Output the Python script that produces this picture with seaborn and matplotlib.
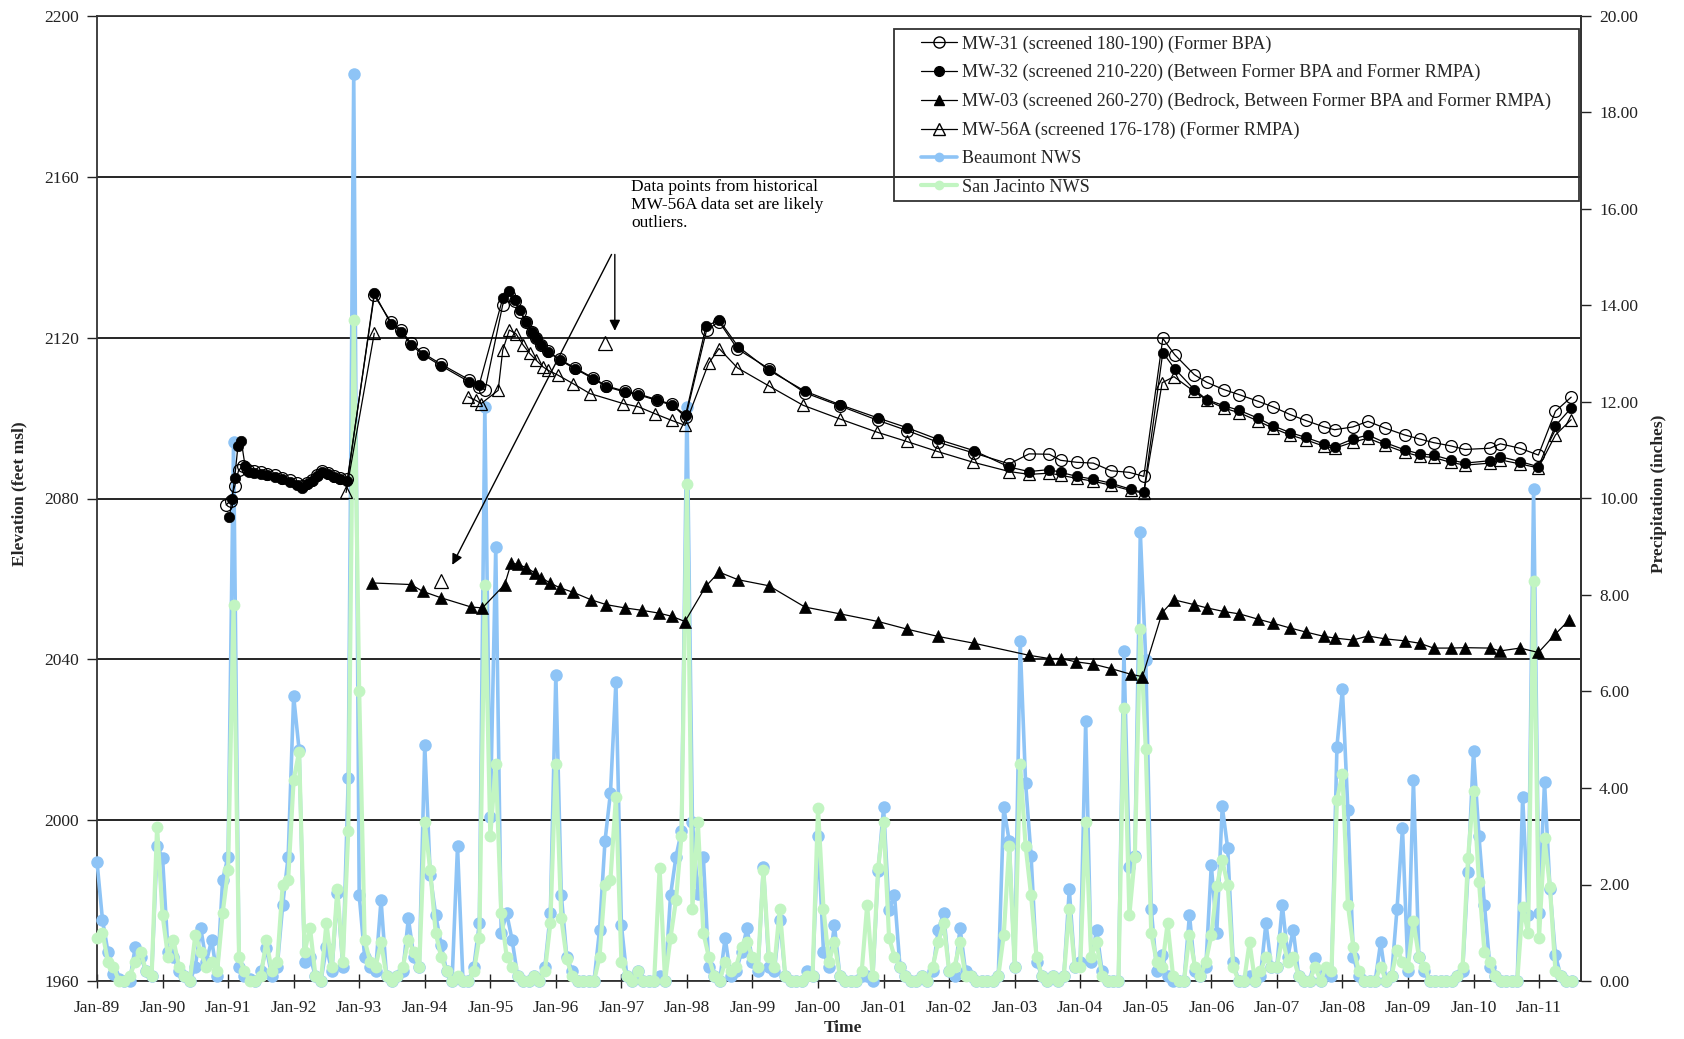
import numpy as np
import pandas as pd
import matplotlib
matplotlib.use("Agg")
import matplotlib.pyplot as plt
from matplotlib.lines import Line2D
from matplotlib.patches import Rectangle
import seaborn as sns

# ---------------- data ----------------
start_year = 1989
tick_years = list(range(1989, 2012))
tick_labels = [f"Jan-{y % 100:02d}" for y in tick_years]
elev_ticks = [1960, 2000, 2040, 2080, 2120, 2160, 2200]
precip_ticks = [0, 2, 4, 6, 8, 10, 12, 14, 16, 18, 20]

# monthly precipitation (inches), Jan-1989 .. Jul-2011
beaumont = [
    2.47, 1.27, 0.61, 0.15, 0.05, 0.00, 0.00, 0.71, 0.50, 0.20, 0.10, 2.79,
    2.55, 0.60, 0.50, 0.20, 0.10, 0.00, 0.30, 1.09, 0.40, 0.85, 0.10, 2.10,
    2.58, 11.18, 0.30, 0.10, 0.05, 0.00, 0.20, 0.68, 0.10, 0.30, 1.58, 2.58,
    5.90, 4.79, 0.40, 0.50, 0.10, 0.00, 0.70, 0.20, 1.82, 0.30, 4.20, 18.80,
    1.78, 0.50, 0.30, 0.20, 1.68, 0.10, 0.00, 0.10, 0.20, 1.30, 0.50, 0.30,
    4.90, 2.20, 1.37, 0.75, 0.20, 0.00, 2.79, 0.00, 0.00, 0.30, 1.20, 11.90,
    3.40, 9.00, 1.00, 1.40, 0.85, 0.10, 0.00, 0.00, 0.10, 0.00, 0.30, 1.40,
    6.35, 1.78, 0.50, 0.20, 0.00, 0.00, 0.00, 0.00, 1.06, 2.90, 3.90, 6.20,
    1.16, 0.10, 0.00, 0.20, 0.00, 0.00, 0.00, 0.10, 0.00, 1.78, 2.58, 3.10,
    11.90, 3.30, 1.80, 2.58, 0.30, 0.10, 0.00, 0.90, 0.10, 0.20, 0.60, 1.10,
    0.40, 0.20, 2.37, 0.30, 0.20, 1.27, 0.10, 0.00, 0.00, 0.00, 0.20, 0.10,
    3.00, 0.60, 0.30, 1.16, 0.10, 0.00, 0.00, 0.00, 0.10, 0.10, 0.00, 2.27,
    3.60, 1.47, 1.78, 0.30, 0.10, 0.00, 0.00, 0.10, 0.00, 0.20, 1.06, 1.40,
    0.20, 0.10, 1.10, 0.20, 0.10, 0.00, 0.00, 0.00, 0.00, 0.10, 3.60, 2.90,
    0.30, 7.04, 4.10, 2.60, 0.40, 0.10, 0.00, 0.10, 0.00, 0.10, 1.90, 0.30,
    0.40, 5.38, 0.40, 1.06, 0.20, 0.00, 0.00, 0.00, 6.83, 2.37, 2.60, 9.30,
    6.66, 1.50, 0.20, 0.54, 0.10, 0.00, 0.00, 0.00, 1.37, 0.20, 0.10, 0.30,
    2.40, 1.00, 3.62, 2.75, 0.40, 0.00, 0.00, 0.10, 0.00, 0.10, 1.20, 0.30,
    0.30, 1.58, 0.50, 1.06, 0.10, 0.00, 0.00, 0.47, 0.00, 0.20, 0.10, 4.86,
    6.05, 3.55, 0.50, 0.10, 0.00, 0.00, 0.00, 0.80, 0.00, 0.10, 1.50, 3.17,
    0.20, 4.17, 0.50, 0.20, 0.00, 0.00, 0.00, 0.00, 0.00, 0.10, 0.20, 2.26,
    4.76, 3.00, 1.58, 0.30, 0.10, 0.00, 0.00, 0.00, 0.00, 3.82, 1.37, 10.20,
    1.40, 4.13, 1.90, 0.53, 0.10, 0.00, 0.00,
]
san_jacinto = [
    0.90, 1.00, 0.40, 0.30, 0.00, 0.00, 0.10, 0.40, 0.60, 0.20, 0.10, 3.20,
    1.37, 0.50, 0.85, 0.30, 0.10, 0.00, 0.96, 0.60, 0.30, 0.40, 0.20, 1.40,
    2.30, 7.80, 0.50, 0.20, 0.00, 0.00, 0.10, 0.84, 0.20, 0.40, 2.00, 2.10,
    4.17, 4.75, 0.60, 1.10, 0.10, 0.00, 1.20, 0.30, 1.90, 0.40, 3.10, 13.70,
    6.00, 0.85, 0.40, 0.30, 0.80, 0.10, 0.00, 0.10, 0.30, 0.85, 0.60, 0.30,
    3.30, 2.30, 1.00, 0.50, 0.20, 0.00, 0.10, 0.00, 0.00, 0.20, 0.90, 8.20,
    3.00, 4.50, 1.40, 0.50, 0.30, 0.10, 0.00, 0.00, 0.10, 0.00, 0.20, 1.20,
    4.50, 1.30, 0.45, 0.10, 0.00, 0.00, 0.00, 0.00, 0.50, 2.00, 2.10, 3.82,
    0.40, 0.10, 0.00, 0.20, 0.00, 0.00, 0.00, 2.34, 0.00, 0.90, 1.68, 3.00,
    10.30, 1.50, 3.30, 1.00, 0.50, 0.10, 0.00, 0.40, 0.20, 0.30, 0.70, 0.80,
    0.50, 0.30, 2.30, 0.50, 0.30, 1.50, 0.10, 0.00, 0.00, 0.00, 0.10, 0.10,
    3.58, 1.50, 0.40, 0.80, 0.10, 0.00, 0.00, 0.00, 0.20, 1.58, 0.10, 2.34,
    3.30, 0.90, 0.50, 0.30, 0.10, 0.00, 0.00, 0.10, 0.00, 0.30, 0.80, 1.20,
    0.20, 0.30, 0.80, 0.10, 0.10, 0.00, 0.00, 0.00, 0.00, 0.10, 0.95, 2.80,
    0.30, 4.50, 2.80, 1.78, 0.50, 0.10, 0.00, 0.10, 0.00, 0.10, 1.50, 0.30,
    0.30, 3.30, 0.50, 0.80, 0.10, 0.00, 0.00, 0.00, 5.66, 1.37, 2.58, 7.30,
    4.80, 0.99, 0.40, 0.30, 1.20, 0.10, 0.00, 0.00, 0.96, 0.30, 0.10, 0.40,
    0.95, 1.96, 2.50, 2.00, 0.30, 0.00, 0.00, 0.80, 0.00, 0.20, 0.50, 0.30,
    0.30, 0.90, 0.40, 0.50, 0.10, 0.00, 0.00, 0.30, 0.00, 0.30, 0.20, 3.75,
    4.30, 1.58, 0.70, 0.20, 0.00, 0.00, 0.00, 0.30, 0.00, 0.10, 0.65, 0.40,
    0.30, 1.24, 0.50, 0.30, 0.00, 0.00, 0.00, 0.00, 0.00, 0.10, 0.30, 2.55,
    3.93, 2.06, 0.60, 0.40, 0.10, 0.00, 0.00, 0.00, 0.00, 1.54, 1.00, 8.30,
    0.90, 2.96, 1.94, 0.20, 0.10, 0.00, 0.00,
]

# groundwater elevations (decimal year, feet msl)
mw31 = [
    (1990.97, 2078.4), (1991.04, 2079.5), (1991.10, 2083.0), (1991.16, 2087.0), (1991.22, 2088.0),
    (1991.30, 2087.0), (1991.40, 2086.8), (1991.50, 2086.5), (1991.60, 2086.2), (1991.72, 2085.8),
    (1991.82, 2085.2), (1991.95, 2084.6), (1992.05, 2083.8), (1992.12, 2083.0), (1992.20, 2083.8),
    (1992.28, 2084.6), (1992.36, 2085.9), (1992.44, 2086.8), (1992.52, 2086.4), (1992.61, 2085.7),
    (1992.70, 2085.2), (1992.82, 2084.8),
    (1993.23, 2130.5), (1993.48, 2124.0), (1993.64, 2121.9), (1993.79, 2118.6), (1993.97, 2116.2),
    (1994.25, 2113.4), (1994.68, 2109.5), (1994.83, 2107.8), (1994.92, 2107.0),
    (1995.19, 2128.2), (1995.29, 2130.7), (1995.37, 2129.0), (1995.45, 2126.5), (1995.55, 2123.8),
    (1995.63, 2121.5), (1995.70, 2119.8), (1995.78, 2118.3), (1995.88, 2116.6), (1996.06, 2114.6),
    (1996.29, 2112.5), (1996.57, 2110.0), (1996.77, 2108.0), (1997.05, 2106.7), (1997.26, 2106.0),
    (1997.54, 2104.6), (1997.77, 2103.4), (1997.98, 2100.2),
    (1998.30, 2121.9), (1998.49, 2124.0), (1998.77, 2117.2), (1999.25, 2112.3), (1999.80, 2106.3),
    (2000.34, 2103.0), (2000.92, 2099.4), (2001.36, 2096.9), (2001.83, 2094.0), (2002.38, 2091.3),
    (2002.92, 2088.6), (2003.22, 2091.1), (2003.53, 2091.0), (2003.70, 2089.5), (2003.95, 2089.0),
    (2004.20, 2088.8), (2004.47, 2086.9), (2004.75, 2086.5), (2004.97, 2085.5),
    (2005.26, 2119.8), (2005.44, 2115.8), (2005.74, 2110.8), (2005.93, 2108.9), (2006.19, 2107.1),
    (2006.43, 2105.8), (2006.71, 2104.2), (2006.94, 2102.8), (2007.20, 2100.9), (2007.44, 2099.4),
    (2007.72, 2097.8), (2007.88, 2097.1), (2008.16, 2097.8), (2008.39, 2099.2), (2008.65, 2097.5),
    (2008.95, 2095.8), (2009.18, 2094.8), (2009.39, 2093.9), (2009.65, 2093.1), (2009.87, 2092.2),
    (2010.25, 2092.5), (2010.41, 2093.6), (2010.71, 2092.5), (2010.99, 2090.8), (2011.25, 2101.7),
    (2011.49, 2105.2),
]
mw32 = [
    (1991.02, 2075.3), (1991.06, 2080.0), (1991.10, 2085.0), (1991.15, 2093.0), (1991.20, 2094.4),
    (1991.26, 2088.0), (1991.32, 2086.5), (1991.40, 2086.3), (1991.50, 2086.0), (1991.60, 2085.8),
    (1991.72, 2085.3), (1991.82, 2084.8), (1991.95, 2084.2), (1992.05, 2083.3), (1992.12, 2082.5),
    (1992.20, 2083.5), (1992.28, 2084.3), (1992.36, 2085.6), (1992.44, 2086.5), (1992.52, 2086.0),
    (1992.61, 2085.3), (1992.70, 2084.9), (1992.82, 2084.4),
    (1993.23, 2131.1), (1993.48, 2123.5), (1993.64, 2121.5), (1993.79, 2118.2), (1993.97, 2115.8),
    (1994.25, 2113.0), (1994.68, 2109.0), (1994.83, 2108.2),
    (1995.19, 2129.8), (1995.29, 2131.5), (1995.37, 2129.4), (1995.45, 2126.9), (1995.55, 2124.0),
    (1995.63, 2121.5), (1995.70, 2119.8), (1995.78, 2118.2), (1995.88, 2116.5), (1996.06, 2114.4),
    (1996.29, 2112.3), (1996.57, 2109.8), (1996.77, 2107.8), (1997.05, 2106.5), (1997.26, 2105.8),
    (1997.54, 2104.4), (1997.77, 2103.2), (1997.98, 2100.8),
    (1998.29, 2122.8), (1998.49, 2124.4), (1998.78, 2117.8), (1999.25, 2111.9), (1999.80, 2106.7),
    (2000.34, 2103.3), (2000.92, 2100.0), (2001.36, 2097.6), (2001.83, 2094.7), (2002.38, 2091.9),
    (2002.92, 2087.8), (2003.22, 2086.7), (2003.53, 2087.2), (2003.70, 2086.5), (2003.95, 2085.5),
    (2004.20, 2084.8), (2004.47, 2083.8), (2004.77, 2082.3), (2004.97, 2081.5),
    (2005.26, 2116.3), (2005.44, 2112.3), (2005.74, 2107.1), (2005.93, 2104.6), (2006.19, 2103.1),
    (2006.43, 2101.9), (2006.71, 2100.0), (2006.94, 2098.1), (2007.20, 2096.4), (2007.44, 2095.2),
    (2007.72, 2093.6), (2007.88, 2092.9), (2008.16, 2094.8), (2008.39, 2095.8), (2008.65, 2093.9),
    (2008.95, 2092.1), (2009.18, 2091.1), (2009.39, 2090.8), (2009.65, 2089.6), (2009.87, 2088.8),
    (2010.25, 2089.4), (2010.41, 2090.4), (2010.71, 2089.2), (2010.99, 2087.9), (2011.25, 2098.1),
    (2011.49, 2102.5),
]
mw03 = [
    (1993.20, 2059.0), (1993.79, 2058.6), (1993.97, 2056.9), (1994.25, 2055.3), (1994.71, 2053.0),
    (1994.88, 2052.8), (1995.22, 2058.6), (1995.32, 2064.0), (1995.42, 2063.6), (1995.55, 2062.8),
    (1995.68, 2061.5), (1995.78, 2060.3), (1995.91, 2059.0), (1996.06, 2057.8), (1996.26, 2056.7),
    (1996.54, 2054.8), (1996.77, 2053.6), (1997.05, 2052.8), (1997.31, 2052.2), (1997.57, 2051.5),
    (1997.77, 2050.7), (1997.97, 2049.4), (1998.29, 2058.2), (1998.49, 2061.7), (1998.78, 2059.8),
    (1999.25, 2058.3), (1999.80, 2053.0), (2000.34, 2051.3), (2000.92, 2049.4), (2001.36, 2047.5),
    (2001.83, 2045.7), (2002.38, 2044.0), (2003.22, 2041.0), (2003.53, 2040.2), (2003.70, 2040.2),
    (2003.93, 2039.4), (2004.20, 2038.8), (2004.47, 2037.7), (2004.77, 2036.3), (2004.95, 2035.7),
    (2005.25, 2051.6), (2005.43, 2054.8), (2005.74, 2053.6), (2005.93, 2052.8), (2006.19, 2051.9),
    (2006.43, 2051.3), (2006.71, 2050.0), (2006.94, 2049.0), (2007.20, 2047.8), (2007.44, 2046.8),
    (2007.72, 2045.7), (2007.88, 2045.3), (2008.16, 2044.8), (2008.39, 2045.8), (2008.65, 2045.1),
    (2008.95, 2044.6), (2009.18, 2044.0), (2009.39, 2042.8), (2009.65, 2042.8), (2009.87, 2042.9),
    (2010.25, 2042.8), (2010.41, 2042.1), (2010.71, 2042.8), (2010.99, 2041.7), (2011.25, 2046.3),
    (2011.46, 2049.8),
]
mw56a_early = [(1992.80, 2081.5), (1993.23, 2121.1)]
mw56a = [
    (1994.66, 2105.3), (1994.78, 2104.4), (1994.86, 2103.6), (1995.12, 2106.9), (1995.19, 2116.9),
    (1995.29, 2121.9), (1995.39, 2121.0), (1995.50, 2118.2), (1995.60, 2116.1), (1995.70, 2114.4),
    (1995.80, 2112.8), (1995.88, 2111.9), (1996.03, 2110.7), (1996.26, 2108.6), (1996.52, 2106.1),
    (1997.03, 2103.6), (1997.26, 2102.8), (1997.51, 2101.1), (1997.77, 2099.4), (1997.97, 2098.2),
    (1998.33, 2113.6), (1998.49, 2117.3), (1998.77, 2112.5), (1999.25, 2108.0), (1999.77, 2103.2),
    (2000.33, 2099.8), (2000.90, 2096.5), (2001.35, 2094.2), (2001.82, 2091.7), (2002.37, 2089.0),
    (2002.92, 2086.7), (2003.22, 2086.0), (2003.53, 2086.3), (2003.70, 2085.8), (2003.95, 2085.0),
    (2004.20, 2084.3), (2004.47, 2083.3), (2004.77, 2082.0), (2004.97, 2081.3),
    (2005.25, 2108.8), (2005.43, 2110.3), (2005.73, 2106.7), (2005.93, 2104.5), (2006.19, 2102.5),
    (2006.43, 2101.3), (2006.71, 2099.3), (2006.94, 2097.5), (2007.20, 2095.8), (2007.44, 2094.6),
    (2007.72, 2093.0), (2007.88, 2092.5), (2008.16, 2094.0), (2008.39, 2095.0), (2008.65, 2093.3),
    (2008.95, 2091.5), (2009.18, 2090.5), (2009.39, 2090.2), (2009.65, 2089.0), (2009.87, 2088.3),
    (2010.25, 2088.8), (2010.41, 2089.6), (2010.71, 2088.6), (2010.99, 2087.6), (2011.25, 2095.8),
    (2011.49, 2099.6),
]
mw56a_outliers = [(1994.25, 2059.4), (1996.75, 2118.6)]

labels = [
    "MW-31 (screened 180-190) (Former BPA)",
    "MW-32 (screened 210-220) (Between Former BPA and Former RMPA)",
    "MW-03 (screened 260-270) (Bedrock, Between Former BPA and Former RMPA)",
    "MW-56A (screened 176-178) (Former RMPA)",
    "Beaumont NWS",
    "San Jacinto NWS",
]
note_text = "Data points from historical\nMW-56A data set are likely\noutliers."

# ---------------- style ----------------
BLUE = "#8ec4f6"
GREEN = "#c2f5c2"
FS = 12.5
LFS = 13.1

sns.set_theme(style="white")
plt.rcParams["font.family"] = ["Liberation Serif", "DejaVu Serif"]

fig = plt.figure(figsize=(16.84, 10.39), dpi=100)
pos = [97 / 1684, 1 - 981 / 1039, 1484 / 1684, 965 / 1039]
ax = fig.add_axes(pos)
ax2 = ax.twinx()
ax3 = fig.add_axes(pos, sharex=ax, sharey=ax)
ax2.patch.set_visible(False)
ax3.patch.set_visible(False)
ax3.axis("off")

month_x = [start_year + i / 12 for i in range(len(beaumont))]
prec = pd.DataFrame({"t": month_x, "b": beaumont, "s": san_jacinto})

sns.lineplot(data=prec, x="t", y="b", ax=ax2, color=BLUE, linewidth=2.6, marker="o",
             markersize=9, markeredgewidth=0, markeredgecolor=BLUE,
             estimator=None, sort=False, legend=False)
sns.lineplot(data=prec, x="t", y="s", ax=ax2, color=GREEN, linewidth=3.0, marker="o",
             markersize=8.5, markeredgewidth=0, markeredgecolor=GREEN,
             estimator=None, sort=False, legend=False)
for ln in ax2.lines:
    ln.set_clip_on(False)


def df(pairs):
    return pd.DataFrame(pairs, columns=["t", "e"])


common = dict(estimator=None, sort=False, legend=False, color="black", linewidth=0.9)
sns.lineplot(data=df(mw31), x="t", y="e", ax=ax3, marker="o", markersize=8.5,
             markerfacecolor="none", markeredgecolor="black", markeredgewidth=0.9, **common)
sns.lineplot(data=df(mw32), x="t", y="e", ax=ax3, marker="o", markersize=7.5,
             markerfacecolor="black", markeredgecolor="black", markeredgewidth=0.5, **common)
sns.lineplot(data=df(mw03), x="t", y="e", ax=ax3, marker="^", markersize=8,
             markerfacecolor="black", markeredgecolor="black", markeredgewidth=0.5, **common)
for seg in (mw56a_early, mw56a):
    sns.lineplot(data=df(seg), x="t", y="e", ax=ax3, marker="^", markersize=9,
                 markerfacecolor="none", markeredgecolor="black", markeredgewidth=0.9, **common)
sns.lineplot(data=df(mw56a_outliers), x="t", y="e", ax=ax3, marker="^", markersize=10,
             markerfacecolor="none", markeredgecolor="black", markeredgewidth=0.9,
             linestyle="none", estimator=None, sort=False, legend=False, color="black")

# annotation
ax3.text(1997.15, 2159.4, note_text, ha="left", va="top", fontsize=12.5, color="black",
         linespacing=1.15)
arrow = dict(arrowstyle="-|>", color="black", lw=1.0, mutation_scale=16, shrinkA=0, shrinkB=0)
ax3.annotate("", xy=(1996.90, 2121.7), xytext=(1996.90, 2140.7), arrowprops=arrow)
ax3.annotate("", xy=(1994.42, 2063.5), xytext=(1996.85, 2140.7), arrowprops=arrow)

# axes
ax.set_xlim(1989.0, 2011.64)
ax.set_ylim(1960, 2200)
ax2.set_ylim(0, 20)
ax.set_xticks(tick_years)
ax.set_xticklabels(tick_labels)
ax.set_yticks(elev_ticks)
ax.set_yticklabels([str(v) for v in elev_ticks])
ax2.set_yticks(precip_ticks)
ax2.set_yticklabels([f"{v:.2f}" for v in precip_ticks])
ax.set_xlabel("")
ax.set_ylabel("")
ax2.set_ylabel("")

ax.yaxis.grid(True, color="black", linewidth=1.2)
ax.xaxis.grid(False)
ax.tick_params(axis="x", bottom=True, direction="inout", length=10, width=1.0,
               pad=9, labelsize=FS, colors="#222222")
ax.tick_params(axis="y", left=True, direction="out", length=7, width=1.0,
               pad=6, labelsize=FS, colors="#222222")
ax2.tick_params(axis="y", right=True, direction="out", length=7, width=1.0,
                pad=6, labelsize=FS, colors="#222222")
for a in (ax, ax2):
    for s in a.spines.values():
        s.set_color("#333333")
        s.set_linewidth(1.3)
for side in ("left", "top", "bottom"):
    ax2.spines[side].set_visible(False)

# legend with its own frame
ax3.add_patch(Rectangle((0.5371, 0.8083), 0.4616, 0.1782, transform=ax.transAxes,
                        fill=False, edgecolor="#333333", linewidth=1.3, clip_on=False,
                        zorder=5))
handles = [
    Line2D([0], [0], color="black", lw=0.9, marker="o", markersize=8,
           markerfacecolor="none", markeredgecolor="black"),
    Line2D([0], [0], color="black", lw=0.9, marker="o", markersize=7,
           markerfacecolor="black", markeredgecolor="black"),
    Line2D([0], [0], color="black", lw=0.9, marker="^", markersize=7.5,
           markerfacecolor="black", markeredgecolor="black"),
    Line2D([0], [0], color="black", lw=0.9, marker="^", markersize=8,
           markerfacecolor="none", markeredgecolor="black"),
    Line2D([0], [0], color=BLUE, lw=2.6, marker="o", markersize=7,
           markeredgewidth=0),
    Line2D([0], [0], color=GREEN, lw=3.0, marker="o", markersize=7,
           markeredgewidth=0),
]
ax3.legend(handles, labels, loc="upper left", bbox_to_anchor=(0.5553, 0.980),
           frameon=False, fontsize=LFS, borderpad=0, handlelength=2.0,
           handletextpad=0.25, labelspacing=0.63, borderaxespad=0)

fig.text(19 / 1684, 1 - 494 / 1039, "Elevation (feet msl)", rotation=90,
         ha="center", va="center", fontsize=FS, fontweight="bold")
fig.text(1659 / 1684, 1 - 494 / 1039, "Precipitation (inches)", rotation=90,
         ha="center", va="center", fontsize=FS, fontweight="bold")
fig.text(843 / 1684, 1 - 1028 / 1039, "Time", ha="center", va="center",
         fontsize=FS, fontweight="bold")

fig.savefig("out.png", dpi=100)
